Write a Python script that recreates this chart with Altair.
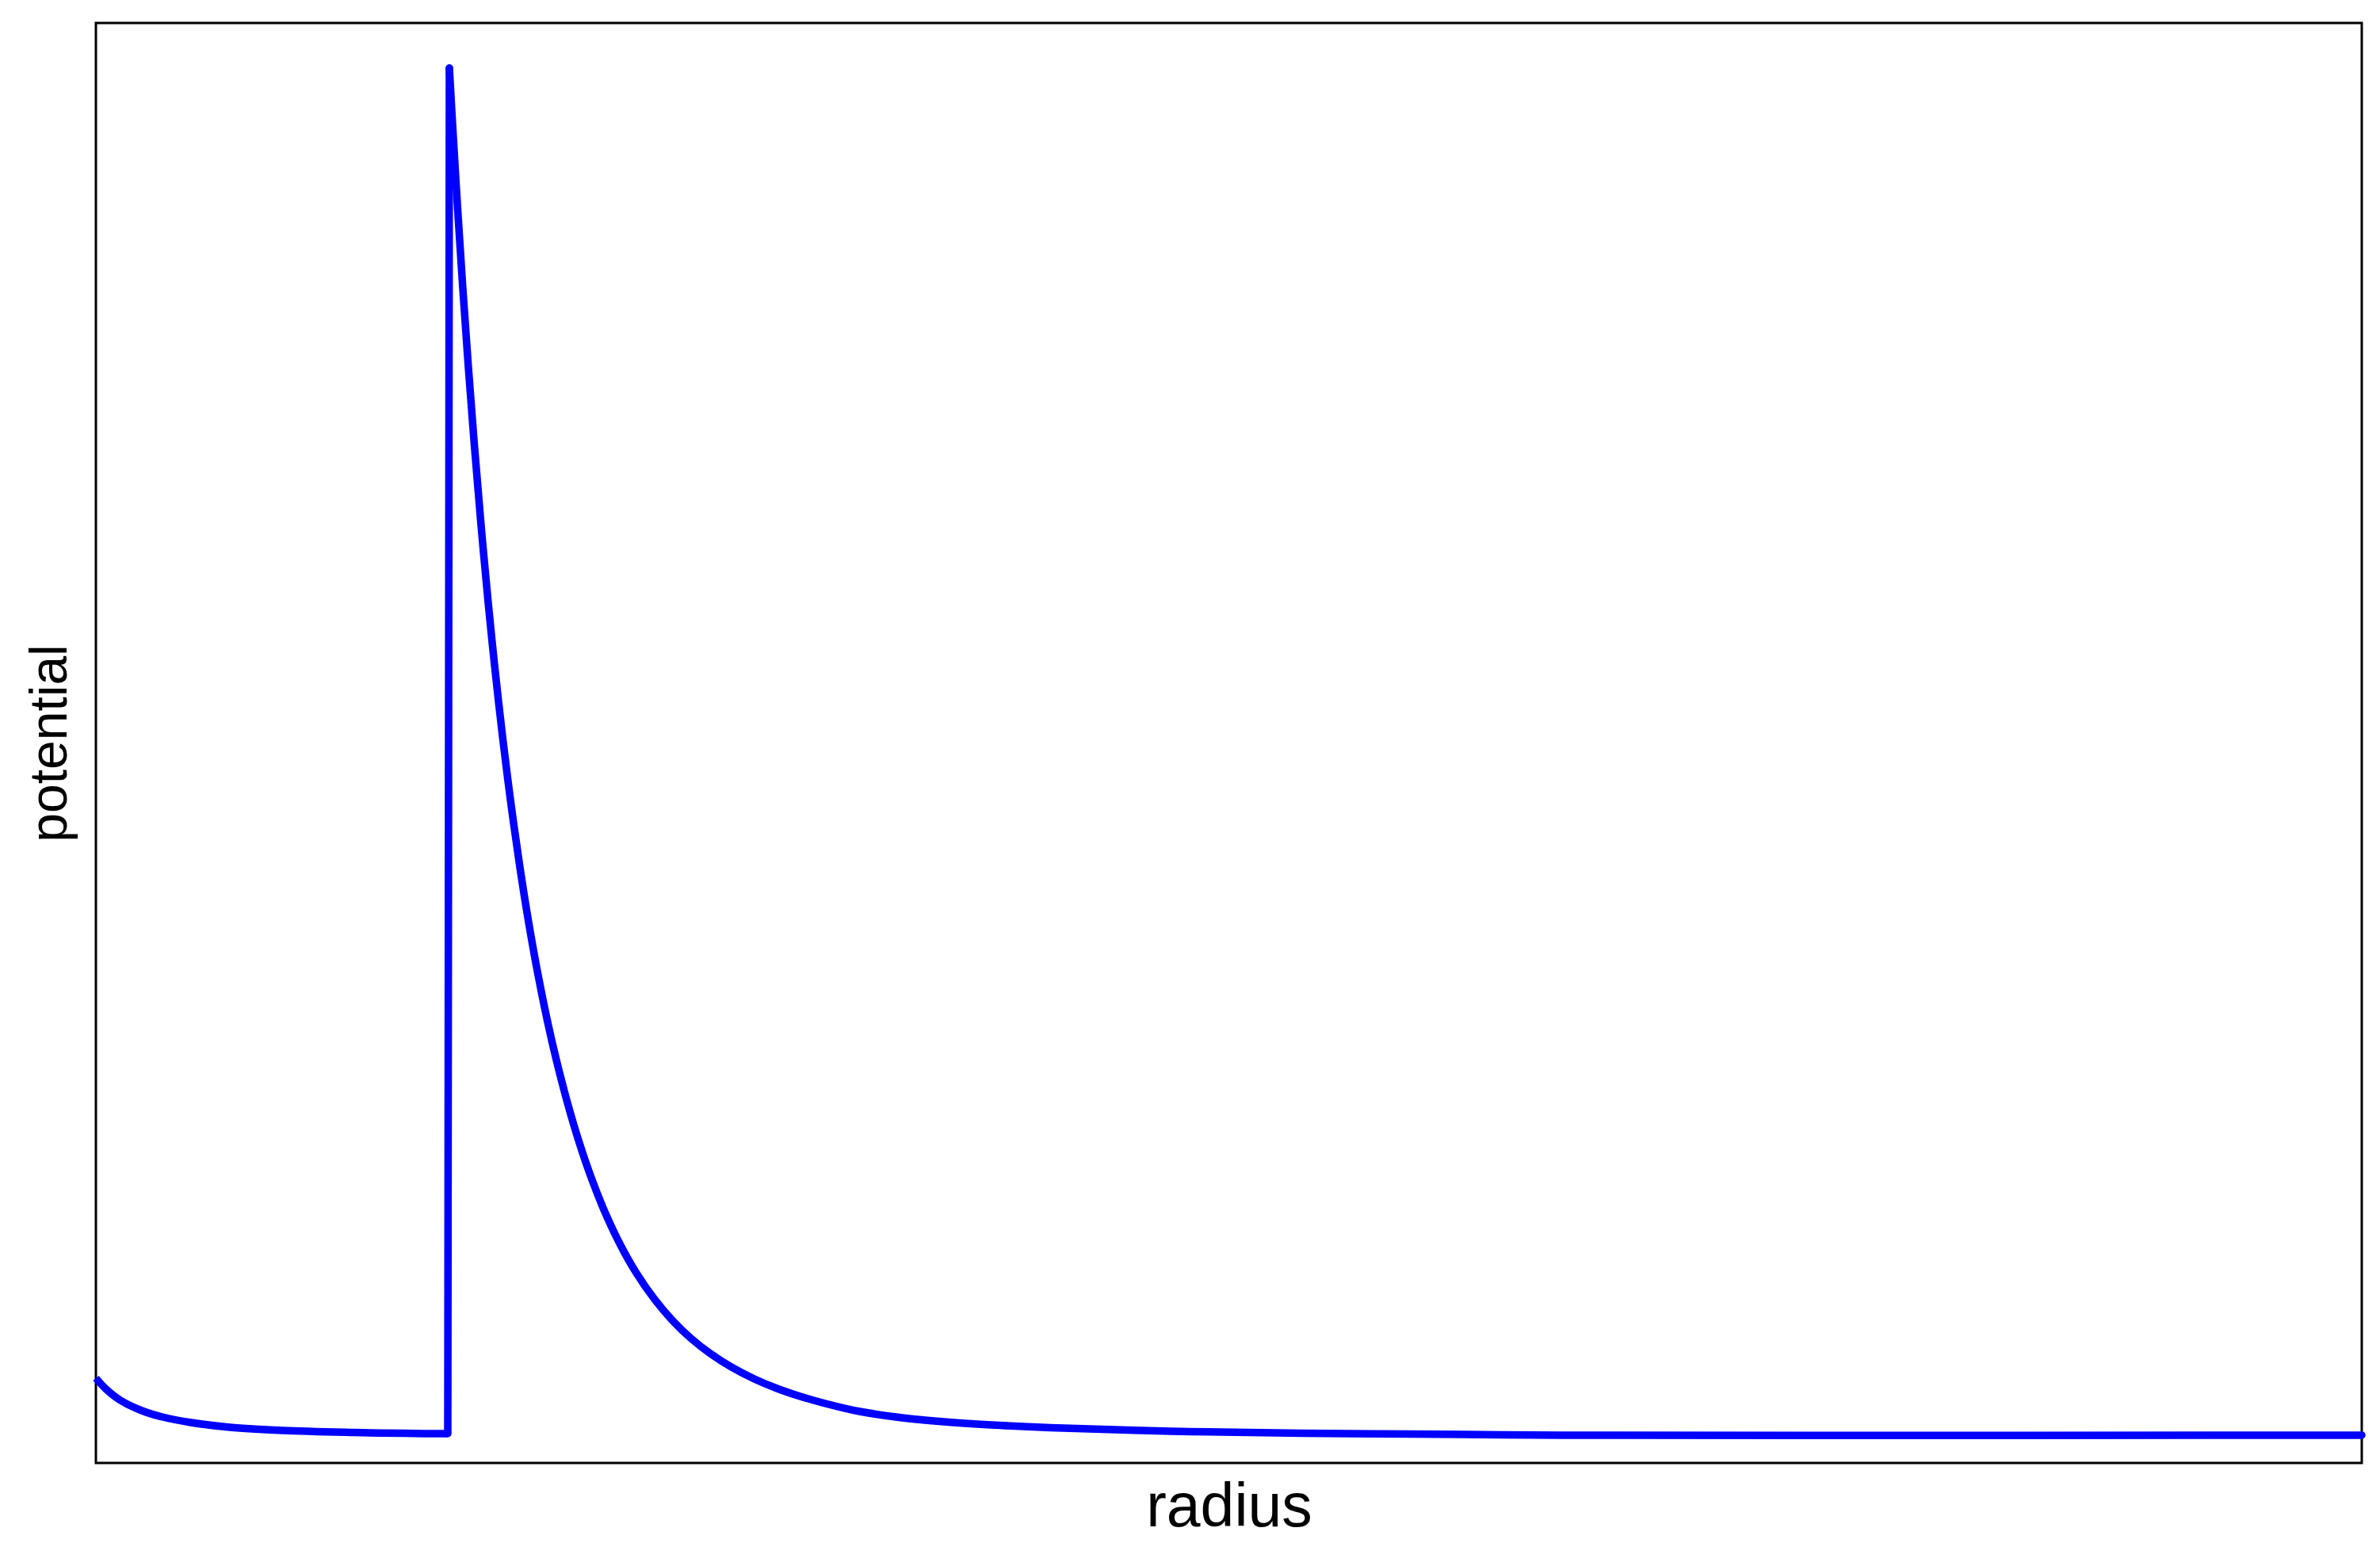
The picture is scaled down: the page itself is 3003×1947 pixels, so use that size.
import altair as alt
import pandas as pd

# radius (arbitrary units, plot spans 0..20) and potential (barrier peak = 1)
# inner well
well_radius = [0.0000, 0.0909, 0.2169, 0.4057, 0.5876, 0.8395, 1.1822, 1.6509, 2.2735, 2.9031, 3.1060]
well_potential = [0.04174, 0.03362, 0.02551, 0.01797, 0.01333, 0.00928, 0.00580, 0.00348, 0.00203, 0.00116, 0.00116]

# sharp rise at the well edge up to the barrier top
jump_radius = [3.1060, 3.1200]
jump_potential = [0.00116, 1.0000]

# barrier decay from the top outwards
tail_radius = [
    3.1200, 3.1497, 3.1918, 3.2372, 3.2864, 3.3400, 3.3985, 3.4631, 3.5192, 3.5906,
    3.6606, 3.7391, 3.8163, 3.9039, 3.9894, 4.0633, 4.1611, 4.2647, 4.3823, 4.4972,
    4.6299, 4.7690, 4.9334, 5.0875, 5.2461, 5.4229, 5.6083, 5.8114, 6.0122, 6.2168,
    6.4385, 6.7410, 7.0612, 7.4844, 7.9014, 8.4239, 9.4929, 10.6471, 12.0714, 12.942,
    20.000,
]
tail_potential = [
    1.00000, 0.95652, 0.89855, 0.84058, 0.78261, 0.72464, 0.66667, 0.60870, 0.56290, 0.51014,
    0.46377, 0.41739, 0.37681, 0.33623, 0.30145, 0.27478, 0.24348, 0.21449, 0.18609, 0.16232,
    0.13913, 0.11884, 0.09913, 0.08406, 0.07130, 0.05971, 0.04986, 0.04116, 0.03420, 0.02841,
    0.02319, 0.01739, 0.01333, 0.00986, 0.00754, 0.00551, 0.00290, 0.00145, 0.00058, 0.00000,
    0.00000,
]

df = pd.concat([
    pd.DataFrame({"radius": well_radius, "potential": well_potential, "part": "well"}),
    pd.DataFrame({"radius": jump_radius, "potential": jump_potential, "part": "jump"}),
    pd.DataFrame({"radius": tail_radius, "potential": tail_potential, "part": "tail"}),
], ignore_index=True)

axis_style = dict(
    domain=False, ticks=False, labels=False, grid=False,
    titleFont="Liberation Sans", titleFontWeight="normal", titleColor="black",
)

x_enc = alt.X("radius:Q", scale=alt.Scale(domain=[0, 20], nice=False, zero=False),
              axis=alt.Axis(title="radius", titleFontSize=77, titlePadding=18, **axis_style))
y_enc = alt.Y("potential:Q", scale=alt.Scale(domain=[-0.0203, 1.033], nice=False, zero=False),
              axis=alt.Axis(title="potential", titleFontSize=66, titlePadding=24, **axis_style))

base = alt.Chart(df).encode(x=x_enc, y=y_enc)
line_style = dict(color="#0000FF", strokeWidth=9.5, strokeJoin="round", clip=False)

well = base.transform_filter(alt.datum.part == "well").mark_line(
    strokeCap="butt", interpolate="catmull-rom", **line_style)
jump = base.transform_filter(alt.datum.part == "jump").mark_line(
    strokeCap="round", interpolate="linear", **line_style)
tail = base.transform_filter(alt.datum.part == "tail").mark_line(
    strokeCap="round", interpolate="catmull-rom", **line_style)

chart = (
    alt.layer(well, jump, tail)
    .properties(
        width=2859,
        height=1817,
        autosize=alt.AutoSizeParams(type="none"),
        padding={"left": 113, "top": 21, "right": 15, "bottom": 100},
        background="white",
    )
    .configure_view(stroke="black", strokeWidth=3)
)

chart.save("out.html", embed_options={"renderer": "svg", "actions": False})
